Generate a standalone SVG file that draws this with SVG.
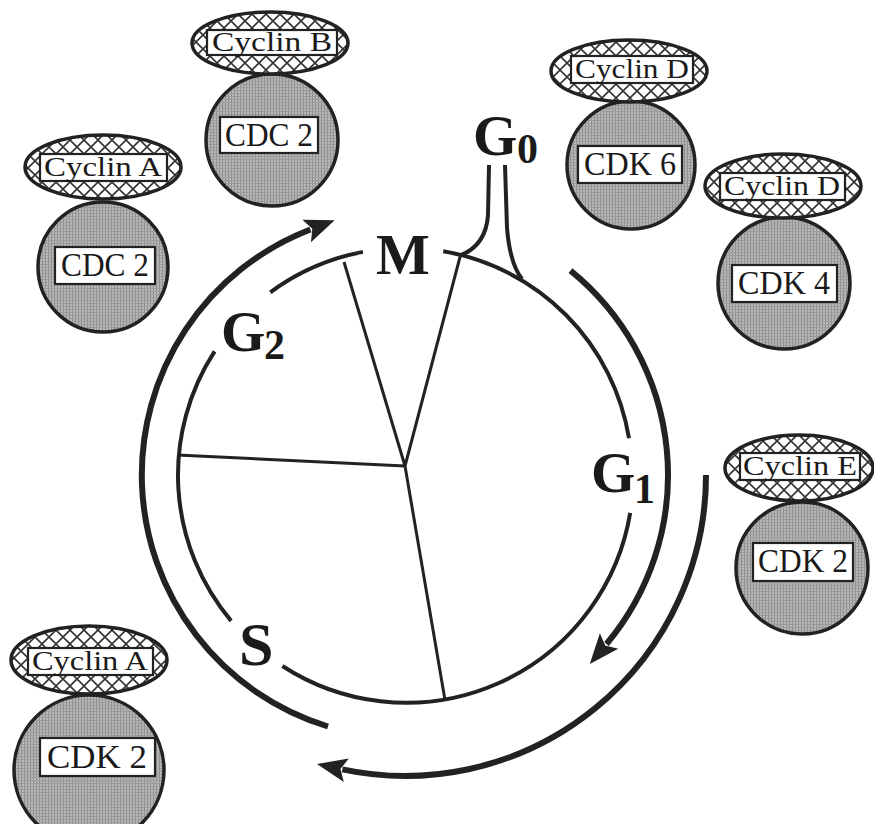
<svg xmlns="http://www.w3.org/2000/svg" width="874" height="824" viewBox="0 0 874 824">
<defs>
<pattern id="hatch" patternUnits="userSpaceOnUse" width="14" height="14">
<rect width="14" height="14" fill="#fff"/>
<path d="M0,0 L14,14 M14,0 L0,14" stroke="#333" stroke-width="1.6"/>
</pattern>
<pattern id="stipple" patternUnits="userSpaceOnUse" width="3" height="3">
<rect width="3" height="3" fill="#b8b8b8"/>
<rect width="1" height="3" fill="#8e8e8e"/>
<rect width="3" height="1" fill="#9c9c9c"/>
</pattern>
<marker id="ah" markerUnits="userSpaceOnUse" markerWidth="36" markerHeight="28" viewBox="0 -14 36 28" refX="4" refY="0" orient="auto">
<path d="M0,-12 L30,0 L0,12 L6,0 Z" fill="#222"/>
</marker>
<style>
.cyc{fill:url(#hatch);stroke:#222;stroke-width:3.5}
.cdk{fill:url(#stipple);stroke:#222;stroke-width:3.5}
.lab{fill:#fff;stroke:#222;stroke-width:2.2}
.tc{font-family:"Liberation Serif","Times New Roman",serif;font-size:27px;fill:#1a1a1a;text-anchor:middle}
.tk{font-family:"Liberation Serif","Times New Roman",serif;font-size:34px;fill:#1a1a1a;text-anchor:middle}
.ph{font-family:"Liberation Serif","Times New Roman",serif;font-weight:bold;font-size:57px;fill:#1a1a1a}
.sub{font-family:"Liberation Serif","Times New Roman",serif;font-weight:bold;font-size:42px;fill:#1a1a1a}
.ring{fill:none;stroke:#222;stroke-width:4}
.pie{fill:none;stroke:#222;stroke-width:3}
.arr{fill:none;stroke:#222;stroke-width:6}
</style>
</defs>
<rect width="874" height="824" fill="#fff"/>

<g id="cycle">
<path class="ring" d="M630.2,512.9 A227,227 0 0 1 282.4,666"/>
<path class="ring" d="M443.2,251.2 A227,227 0 0 1 629,438.3"/>
<path class="ring" d="M270.3,292.3 A227,227 0 0 1 362.9,251.9"/>
<path class="ring" d="M214.6,351.4 A227,227 0 0 0 231.1,620.9"/>
<path class="pie" d="M405,466 L344,262 M405,466 L460,257 M405,466 L177,455 M405,466 L445,700"/>
<path class="ring" d="M489,165 L488,215 Q486,246 459,256"/>
<path class="ring" d="M505,165 L507,228 Q510,264 522,279"/>
</g>

<g id="labels">
<text class="ph" x="403" y="274" text-anchor="middle">M</text>
<text class="ph" x="591" y="492">G</text><text class="sub" x="634" y="503">1</text>
<text class="ph" x="473" y="155">G</text><text class="sub" x="517" y="163">0</text>
<text class="ph" x="221" y="351">G</text><text class="sub" x="264" y="359">2</text>
<text class="ph" x="239" y="665" style="font-size:62px">S</text>
</g>

<g id="connectors">
<path class="arr" d="M328,726.5 A263,263 0 0 1 310.4,229.5" marker-end="url(#ah)"/>
<path class="arr" d="M570.5,270.6 A263,263 0 0 1 606.5,644" marker-end="url(#ah)"/>
<path class="arr" d="M706,475 A301,301 0 0 1 342.4,769.4" marker-end="url(#ah)"/>
</g>

<g id="cyclinB-cdc2">
<circle class="cdk" cx="272" cy="140" r="66"/>
<ellipse class="cyc" cx="270" cy="43" rx="78" ry="31"/>
<rect class="lab" x="207" y="30" width="130" height="25"/>
<text class="tc" x="272" y="51" textLength="120" lengthAdjust="spacingAndGlyphs">Cyclin B</text>
<rect class="lab" x="220" y="117" width="98" height="36"/>
<text class="tk" x="269" y="146" textLength="88" lengthAdjust="spacingAndGlyphs">CDC 2</text>
</g>

<g id="cyclinA-cdc2">
<circle class="cdk" cx="103" cy="267" r="65"/>
<ellipse class="cyc" cx="103" cy="167" rx="78" ry="32"/>
<rect class="lab" x="40" y="154" width="127" height="27"/>
<text class="tc" x="103" y="176" textLength="118" lengthAdjust="spacingAndGlyphs">Cyclin A</text>
<rect class="lab" x="55" y="247" width="100" height="37"/>
<text class="tk" x="105" y="276" textLength="88" lengthAdjust="spacingAndGlyphs">CDC 2</text>
</g>

<g id="cyclinA-cdk2">
<circle class="cdk" cx="89" cy="770" r="75"/>
<ellipse class="cyc" cx="89" cy="660" rx="78" ry="34"/>
<rect class="lab" x="28" y="648" width="125" height="27"/>
<text class="tc" x="90" y="670" textLength="116" lengthAdjust="spacingAndGlyphs">Cyclin A</text>
<rect class="lab" x="40" y="738" width="115" height="38"/>
<text class="tk" x="97" y="768" textLength="100" lengthAdjust="spacingAndGlyphs">CDK 2</text>
</g>

<g id="cyclinD-cdk6">
<circle class="cdk" cx="631" cy="165" r="64"/>
<ellipse class="cyc" cx="629" cy="71" rx="78" ry="31"/>
<rect class="lab" x="571" y="56" width="122" height="27"/>
<text class="tc" x="632" y="78" textLength="114" lengthAdjust="spacingAndGlyphs">Cyclin D</text>
<rect class="lab" x="578" y="146" width="104" height="37"/>
<text class="tk" x="630" y="175" textLength="92" lengthAdjust="spacingAndGlyphs">CDK 6</text>
</g>

<g id="cyclinD-cdk4">
<circle class="cdk" cx="784" cy="283" r="66"/>
<ellipse class="cyc" cx="783" cy="186" rx="78" ry="32"/>
<rect class="lab" x="720" y="173" width="125" height="27"/>
<text class="tc" x="782" y="195" textLength="116" lengthAdjust="spacingAndGlyphs">Cyclin D</text>
<rect class="lab" x="732" y="265" width="105" height="37"/>
<text class="tk" x="784" y="294" textLength="92" lengthAdjust="spacingAndGlyphs">CDK 4</text>
</g>

<g id="cyclinE-cdk2">
<circle class="cdk" cx="802" cy="568" r="66"/>
<ellipse class="cyc" cx="799" cy="468" rx="74" ry="33"/>
<rect class="lab" x="740" y="453" width="120" height="27"/>
<text class="tc" x="800" y="475" textLength="114" lengthAdjust="spacingAndGlyphs">Cyclin E</text>
<rect class="lab" x="753" y="543" width="100" height="38"/>
<text class="tk" x="803" y="572" textLength="90" lengthAdjust="spacingAndGlyphs">CDK 2</text>
</g>
</svg>
